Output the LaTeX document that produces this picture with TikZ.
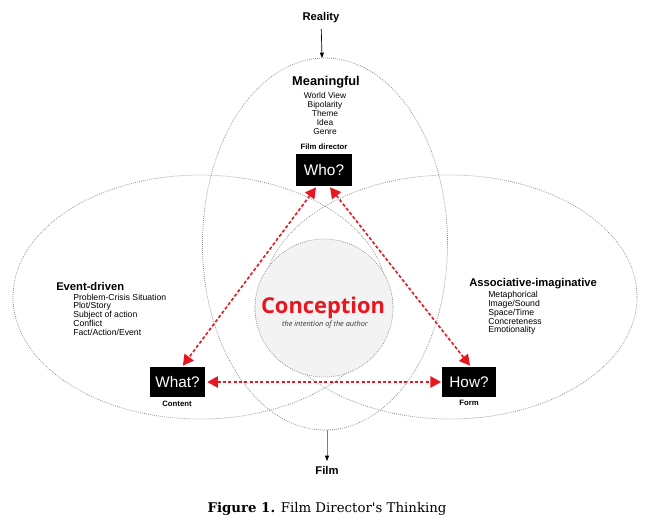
\documentclass[tikz,border=0pt]{standalone}
\usepackage{fontspec}
\setmainfont{Liberation Sans}
\newfontfamily\opensans{Open Sans}
\newfontfamily\capfont{DejaVu Serif}
\usetikzlibrary{arrows.meta}
\definecolor{arred}{HTML}{E8161E}
\definecolor{dotgray}{HTML}{8C8C8C}
\definecolor{circfill}{HTML}{F3F3F3}
\setlength{\lineskiplimit}{-20pt}
\begin{document}
\begin{tikzpicture}[x=0.75pt,y=-0.75pt,
 dotline/.style={draw=dotgray, line width=0.55pt, dash pattern=on 0.6pt off 0.9pt},
 qbox/.style={fill=black, text=white, inner sep=0pt, font=\fontsize{11.5}{12}\selectfont},
 smalllab/.style={font=\bfseries\fontsize{5.8}{6}\selectfont, inner sep=0pt},
 head/.style={font=\bfseries\fontsize{8.4}{9}\selectfont, inner sep=0pt},
 items/.style={font=\fontsize{6.5}{6.6}\selectfont, inner sep=0pt, align=left},
 redarr/.style={draw=arred, line width=1.2pt, dash pattern=on 2.4pt off 1.6pt,
   {Triangle[length=8pt,width=8.5pt]}-{Triangle[length=8pt,width=8.5pt]}},
 blackarr/.style={line width=0.5pt, -{Triangle[length=4pt,width=3pt,black]}},
]
\path[use as bounding box] (0,0) rectangle (659,526);
\fill[white] (0,0) rectangle (659,526);

% overlapping ellipses
\draw[dotline] (325,244) ellipse [x radius=91.9pt, y radius=139.5pt];
\draw[dotline] (200,297) ellipse [x radius=140.25pt, y radius=91.5pt];
\draw[dotline] (450,297) ellipse [x radius=140.25pt, y radius=91.5pt];
% central circle
\draw[dotline, fill=circfill] (324,308) circle [radius=51.75pt];

% Reality / Film
\node[head] (real) at (321,18) {Reality};
\coordinate (realtip) at (322,58);
\draw[blackarr, shorten <=4pt] (real) -- (realtip);
\node[head] (film) at (327,470) {Film};
\coordinate (filmtop) at (327,430);
\draw[blackarr, draw=gray, shorten >=3.5pt] (filmtop) -- (film);

% Meaningful
\node[font=\bfseries\fontsize{9.6}{10}\selectfont, inner sep=0pt] (mean) at (326,82) {Meaningful};
\node[inner sep=0pt, align=center, font=\fontsize{6.3}{6.9}\selectfont] (meanlist) at (325,113.5)
  {World View\\Bipolarity\\Theme\\Idea\\Genre};

% Event-driven
\node[head, anchor=west] (event) at (56,286) {Event-driven};
\node[items, anchor=west] (eventlist) at (73,314.5)
  {Problem-Crisis Situation\\Plot/Story\\Subject of action\\Conflict\\Fact/Action/Event};

% Associative-imaginative
\node[head, anchor=west] (assoc) at (469,284) {Associative-imaginative};
\node[items, anchor=west] (assoclist) at (488,313)
  {Metaphorical\\Image/Sound\\Space/Time\\Concreteness\\Emotionality};

% Conception
\node[font=\opensans\bfseries\fontsize{16.4}{18}\selectfont, text=arred, inner sep=0pt] (conc) at (323,308) {Conception};
\node[font=\opensans\itshape\fontsize{5.5}{6}\selectfont, text=black!80, inner sep=0pt] (intent) at (325,325) {the intention of the author};

% boxes
\node[qbox, minimum width=42pt, minimum height=24pt] (who) at (324,170) {Who?};
\node[smalllab] (wholab) at (324,147) {Film director};
\node[qbox, minimum width=41.25pt, minimum height=22.5pt] (what) at (177.5,382) {What?};
\node[smalllab] (whatlab) at (177,404) {Content};
\node[qbox, minimum width=40.5pt, minimum height=22.5pt] (how) at (469,382) {How?};
\node[smalllab] (howlab) at (469,403) {Form};

% red arrows
\draw[redarr] ([xshift=-6pt,yshift=-0.8pt]who.south) -- ([xshift=4pt,yshift=0.8pt]what.north);
\draw[redarr] ([xshift=4.5pt,yshift=-0.8pt]who.south) -- ([xshift=0.75pt,yshift=0.8pt]how.north);
\draw[redarr] ([xshift=1.5pt]what.east) -- ([xshift=-0.5pt]how.west);

% caption
\node[font=\capfont\fontsize{10}{12}\selectfont, inner sep=0pt] (cap) at (327,509) {\textbf{Figure 1.} Film Director's Thinking};
\end{tikzpicture}
\end{document}
